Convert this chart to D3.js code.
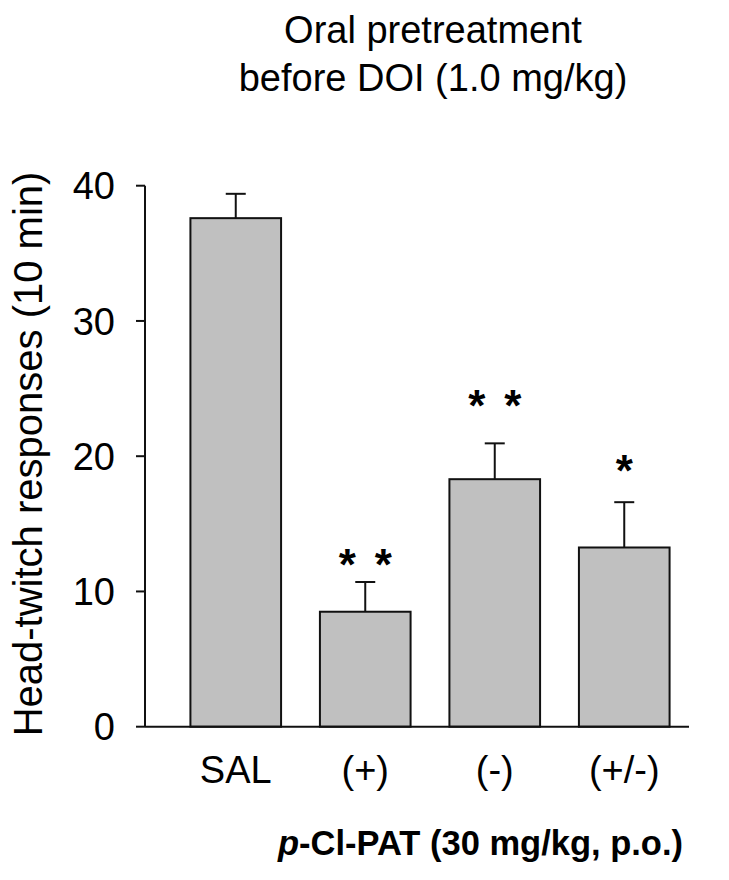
<!DOCTYPE html>
<html>
<head>
<meta charset="utf-8">
<script src="https://cdn.jsdelivr.net/npm/d3@7"></script>
<style>
  html, body { margin: 0; padding: 0; background: #fff; }
  text { font-family: "Liberation Sans", Arial, Helvetica, sans-serif; fill: #000; }
</style>
</head>
<body>
<svg id="chart" width="729" height="880"></svg>
<script>
// ---- Data ----
const categories = ["SAL", "(+)", "(-)", "(+/-)"];
const means = [37.6, 8.5, 18.3, 13.25];
const sems = [1.8, 2.2, 2.65, 3.35];
const starCounts = [0, 2, 2, 1];
const starLevels = [null, 12.6, 24.4, 19.6];
const yTicks = [0, 10, 20, 30, 40];
const titleLines = ["Oral pretreatment", "before DOI (1.0 mg/kg)"];
const yLabel = "Head-twitch responses (10 min)";

// ---- Layout ----
const svg = d3.select("#chart");
const axisX = 145;
const y = d3.scaleLinear().domain([0, 40]).range([726.7, 185.7]);
const x = d3.scaleBand().domain(categories).range([171, 689]).paddingInner(0.3).paddingOuter(0.15);
const ink = "#111";

// Title
svg.append("text")
  .attr("x", 433).attr("y", 42.5)
  .attr("text-anchor", "middle")
  .style("font-size", "38px")
  .selectAll("tspan").data(titleLines).join("tspan")
  .attr("x", 433).attr("dy", (d, i) => i === 0 ? 0 : 48)
  .text(d => d);

// Bars
svg.append("g").selectAll("rect").data(categories).join("rect")
  .attr("x", d => x(d))
  .attr("y", (d, i) => y(means[i]))
  .attr("width", x.bandwidth())
  .attr("height", (d, i) => y(0) - y(means[i]))
  .attr("fill", "#c0c0c0")
  .attr("stroke", ink)
  .attr("stroke-width", 2);

// Error bars (upper only)
const eb = svg.append("g").attr("stroke", ink).attr("stroke-width", 2);
categories.forEach((c, i) => {
  const cx = x(c) + x.bandwidth() / 2;
  eb.append("line").attr("x1", cx).attr("x2", cx)
    .attr("y1", y(means[i])).attr("y2", y(means[i] + sems[i]));
  eb.append("line").attr("x1", cx - 10).attr("x2", cx + 10)
    .attr("y1", y(means[i] + sems[i])).attr("y2", y(means[i] + sems[i]));
});

// Significance stars
categories.forEach((c, i) => {
  const n = starCounts[i];
  if (!n) return;
  const cx = x(c) + x.bandwidth() / 2;
  for (let k = 0; k < n; k++) {
    const off = n === 1 ? 0 : (k === 0 ? -18 : 18);
    svg.append("text")
      .attr("x", cx + off).attr("y", y(starLevels[i]) + 24)
      .attr("text-anchor", "middle")
      .style("font-size", "44px").style("font-weight", "bold")
      .text("*");
  }
});

// Y axis
const yAxis = svg.append("g");
yAxis.append("line").attr("x1", axisX).attr("x2", axisX)
  .attr("y1", y(0)).attr("y2", y(40)).attr("stroke", ink).attr("stroke-width", 2);
yAxis.selectAll(".tick").data(yTicks).join("line")
  .attr("x1", axisX - 9).attr("x2", axisX)
  .attr("y1", d => y(d)).attr("y2", d => y(d))
  .attr("stroke", ink).attr("stroke-width", 2);
yAxis.selectAll("text").data(yTicks).join("text")
  .attr("x", 115).attr("y", d => y(d))
  .attr("dy", "0.36em")
  .attr("text-anchor", "end")
  .style("font-size", "38px")
  .text(d => d);

// X baseline
svg.append("line").attr("x1", axisX).attr("x2", 689)
  .attr("y1", y(0)).attr("y2", y(0)).attr("stroke", ink).attr("stroke-width", 2);

// Category labels
svg.append("g").selectAll("text").data(categories).join("text")
  .attr("x", d => x(d) + x.bandwidth() / 2)
  .attr("y", 782.7)
  .attr("text-anchor", "middle")
  .style("font-size", "38px")
  .text(d => d);

// Y label
svg.append("text")
  .attr("transform", "translate(42,454) rotate(-90)")
  .attr("text-anchor", "middle")
  .style("font-size", "40px")
  .text(yLabel);

// X title
const xt = svg.append("text")
  .attr("x", 480.5).attr("y", 855)
  .attr("text-anchor", "middle")
  .style("font-size", "34.5px").style("font-weight", "bold");
xt.append("tspan").style("font-style", "italic").text("p");
xt.append("tspan").text("-Cl-PAT (30 mg/kg, p.o.)");
</script>
</body>
</html>
